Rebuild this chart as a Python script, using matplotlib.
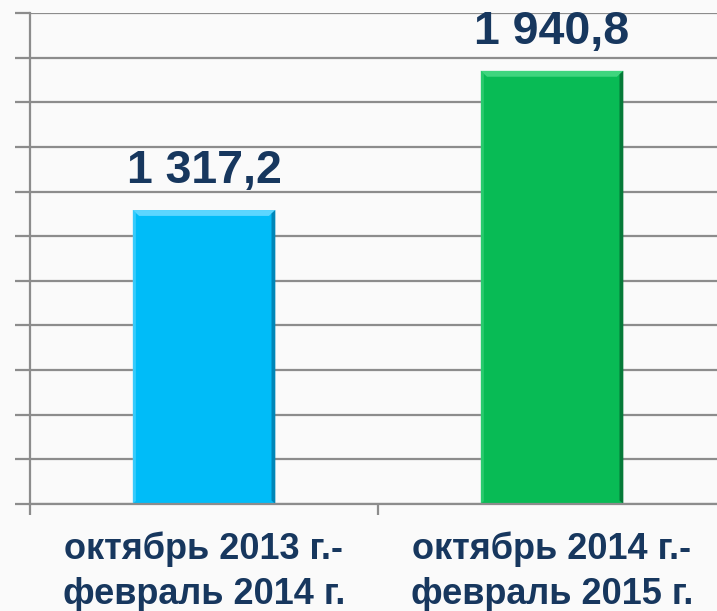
import matplotlib
matplotlib.use("Agg")
import matplotlib.pyplot as plt
from matplotlib.patches import Polygon
import numpy as np

# data
periods = ["октябрь 2013 г.-\nфевраль 2014 г.", "октябрь 2014 г.-\nфевраль 2015 г."]
values = [1317.2, 1940.8]
value_labels = ["1 317,2", "1 940,8"]

bar_colors = ["#00BCF8", "#08BB55"]
light_colors = ["#5CD6FF", "#3FD57E"]
dark_colors = ["#0086B8", "#057A38"]
text_color = "#17375E"
grid_color = "#8C8C8C"

plt.rcParams['font.family'] = ['Liberation Sans', 'DejaVu Sans']

fig = plt.figure(figsize=(7.17, 6.11), dpi=100)
fig.patch.set_facecolor("#FAFAFA")
ax = fig.add_axes([30 / 717, 107 / 611, 696 / 717, 491 / 611])
ax.set_facecolor("#FAFAFA")

x = np.arange(len(values))
bars = ax.bar(x, values, width=0.41, color=bar_colors, zorder=3)

ax.set_xlim(-0.5, 1.5)
ax.set_ylim(0, 2200)
ax.set_yticks(np.arange(0, 2201, 200))
ax.set_yticklabels([])
ax.yaxis.grid(True, color=grid_color, linewidth=1.6, zorder=0)
ax.tick_params(axis='y', length=11, width=1.6, color=grid_color, direction='out')

# category boundaries as ticks, labels in the middle
ax.set_xticks([-0.5, 0.5, 1.5])
ax.set_xticklabels([])
ax.set_xticks(x, minor=True)
ax.set_xticklabels(periods, minor=True, fontsize=26, fontweight='bold',
                   color=text_color, linespacing=1.35)
ax.tick_params(axis='x', which='major', length=8, width=1.6, color=grid_color)
ax.tick_params(axis='x', which='minor', length=0, pad=20)

for side in ["top", "right"]:
    ax.spines[side].set_visible(False)
for side in ["left", "bottom"]:
    ax.spines[side].set_color(grid_color)
    ax.spines[side].set_linewidth(1.6)
    ax.spines[side].set_zorder(4)

# bevel shading on the bars
for b, lc, dc in zip(bars, light_colors, dark_colors):
    x0, w, h = b.get_x(), b.get_width(), b.get_height()
    dx = w * 0.045
    dy = 2200 * 0.012
    top = Polygon([[x0, h], [x0 + w, h], [x0 + w - dx, h - dy], [x0 + dx, h - dy]],
                  closed=True, color=lc, zorder=4, linewidth=0)
    right = Polygon([[x0 + w, h], [x0 + w, 0], [x0 + w - dx * 0.6, dy * 0.6],
                     [x0 + w - dx * 0.6, h - dy * 0.6]],
                    closed=True, color=dc, zorder=4, linewidth=0)
    left = Polygon([[x0, h], [x0, 0], [x0 + dx * 0.5, dy * 0.5], [x0 + dx * 0.5, h - dy * 0.5]],
                   closed=True, color=lc, zorder=4, linewidth=0, alpha=0.6)
    ax.add_patch(top)
    ax.add_patch(right)
    ax.add_patch(left)

for b, lab in zip(bars, value_labels):
    ax.annotate(lab, (b.get_x() + b.get_width() / 2, b.get_height()),
                xytext=(0, 12), textcoords='offset points', ha='center', va='bottom',
                fontsize=33.5, fontweight='bold', color=text_color, zorder=5,
                annotation_clip=False)

fig.savefig("out.png", dpi=100, facecolor=fig.get_facecolor())
